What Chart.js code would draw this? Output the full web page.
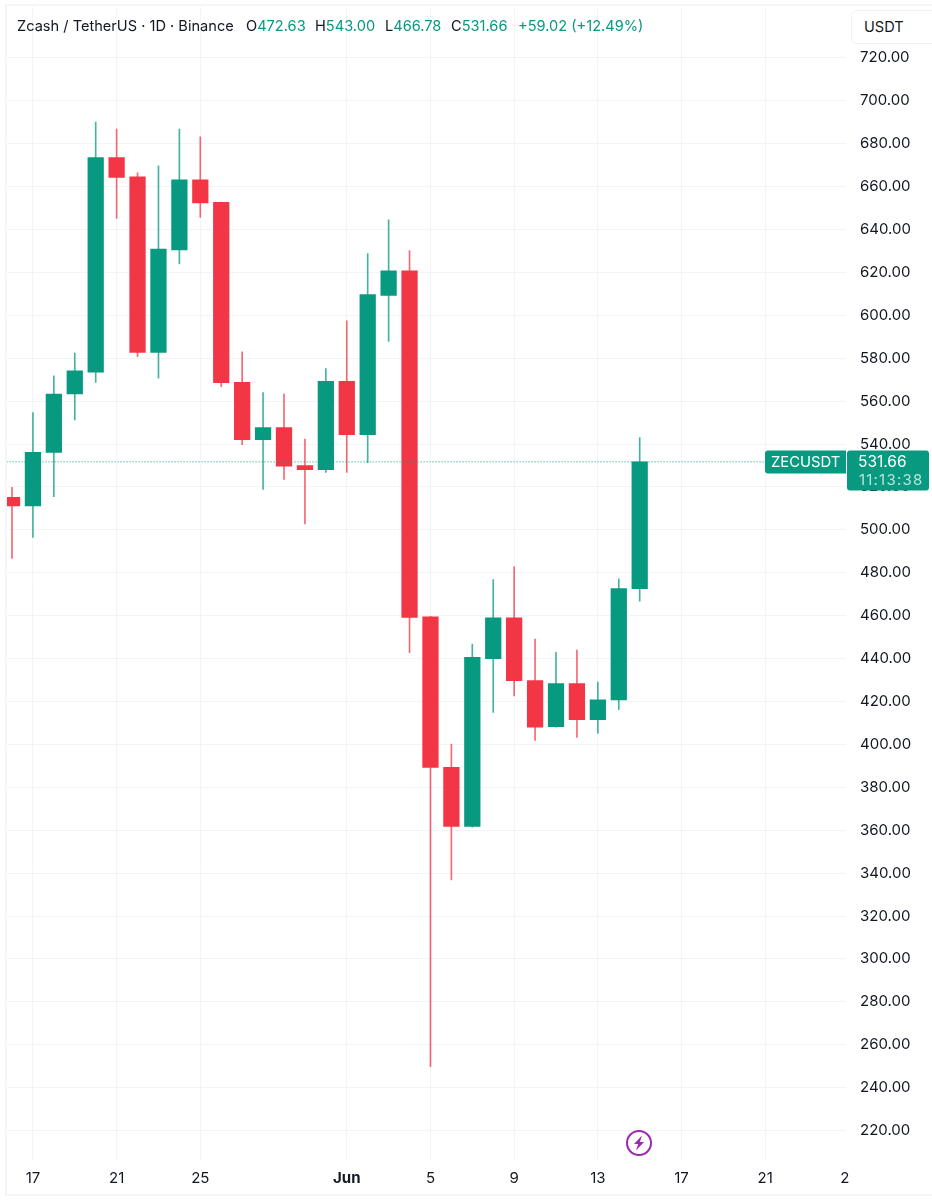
<!DOCTYPE html>
<html>
<head>
<meta charset="utf-8">
<title>ZECUSDT 1D</title>
<script src="https://cdn.jsdelivr.net/npm/chart.js@4"></script>
<style>
    html, body { margin: 0; padding: 0; background: #fff; }
    body { width: 932px; height: 1200px; position: relative; overflow: hidden; font-family: Inter, "Noto Sans", sans-serif; color: #131722; }
    canvas { position: absolute; left: 0; top: 0; }
    #frame { position: absolute; left: 5px; top: 4px; width: 940px; height: 1188px; border: 2px solid #f5f6f8; pointer-events: none; }
    .head { position: absolute; top: 17px; font-size: 14.6px; line-height: 18px; white-space: nowrap; }
    .up { color: #089981; }
    #unit { position: absolute; left: 851px; top: 10px; width: 90px; height: 32px; border: 1px solid #eef0f4; border-radius: 6px; background: #fff; font-size: 14.6px; line-height: 32px; text-indent: 12px; }
    #bolt { position: absolute; left: 625px; top: 1129px; }
</style>
</head>
<body>
<canvas id="chart" width="932" height="1200"></canvas>
<div id="frame"></div>
<div class="head" style="left:17px">Zcash / TetherUS · 1D · Binance</div>
<div class="head" style="left:246px">O<span class="up">472.63</span></div>
<div class="head" style="left:315px">H<span class="up">543.00</span></div>
<div class="head" style="left:385px">L<span class="up">466.78</span></div>
<div class="head" style="left:451px">C<span class="up">531.66</span></div>
<div class="head up" style="left:518px">+59.02 (+12.49%)</div>
<div id="unit">USDT</div>
<svg id="bolt" width="28" height="28" viewBox="0 0 28 28">
    <circle cx="14" cy="14" r="12" fill="none" stroke="#9c27b0" stroke-width="2"/>
    <path d="M17 6.5 L9 15 L13.2 15 L11 21.5 L19 13 L14.8 13 Z" fill="#9c27b0"/>
</svg>
<script>
// daily candles, May 16 to Jun 15
const days = ["May 16", "May 17", "May 18", "May 19", "May 20", "May 21", "May 22", "May 23", "May 24", "May 25", "May 26",
    "May 27", "May 28", "May 29", "May 30", "May 31", "Jun 1", "Jun 2", "Jun 3", "Jun 4", "Jun 5", "Jun 6", "Jun 7", "Jun 8",
    "Jun 9", "Jun 10", "Jun 11", "Jun 12", "Jun 13", "Jun 14", "Jun 15"];
const opens = [515.1, 511.2, 536.1, 563.3, 573.5, 673.5, 664.5, 582.7, 630.5, 663.1, 652.6,
    568.7, 542.0, 547.6, 529.9, 528.0, 569.2, 544.3, 609.3, 620.7, 459.5, 389.3, 361.8, 440.0,
    459.0, 429.7, 408.3, 428.3, 411.5, 420.7, 472.63];
const closes = [511.2, 536.1, 563.3, 574.1, 673.5, 664.2, 582.7, 630.9, 663.1, 652.4, 568.6,
    542.0, 547.6, 529.7, 528.0, 569.2, 544.3, 609.6, 620.7, 459.2, 389.3, 361.8, 440.6, 459.0,
    429.7, 408.0, 428.3, 411.5, 420.8, 472.6, 531.66];
const highs = [519.8, 554.7, 571.8, 582.4, 690.0, 686.8, 666.4, 669.7, 686.8, 683.2, 652.8,
    583.0, 564.0, 563.3, 542.3, 575.2, 597.4, 628.8, 644.5, 630.1, 459.7, 400.2, 446.8, 476.8,
    482.8, 449.1, 442.9, 444.0, 429.1, 477.2, 543.0];
const lows = [486.7, 496.5, 515.4, 551.2, 568.7, 645.1, 580.7, 570.7, 623.9, 645.6, 566.7,
    539.7, 518.8, 523.5, 502.7, 526.8, 526.8, 531.3, 587.8, 442.7, 249.8, 336.8, 361.4, 414.9,
    422.6, 401.9, 408.0, 403.3, 405.1, 416.2, 466.78];

const yTicks = [720, 700, 680, 660, 640, 620, 600, 580, 560, 540, 520, 500, 480, 460, 440, 420, 400, 380, 360, 340, 320, 300, 280, 260, 240, 220];
const xTickSpots = [1, 5, 9, 16, 20, 24, 28, 32, 36, 39.8];
const xTickLabels = ["17", "21", "25", "Jun", "5", "9", "13", "17", "21", "2"];
const lastPrice = 531.66;
const countdown = "11:13:38";
const symbol = "ZECUSDT";

const GREEN = "#089981";
const RED = "#F23645";
const GREEN_WICK = "rgba(8,153,129,0.75)";
const RED_WICK = "rgba(242,54,69,0.75)";
const GRID = "#f3f4f7";
const FONT = "Inter, 'Noto Sans', sans-serif";

const candleColor = (ctx) => closes[ctx.dataIndex] >= opens[ctx.dataIndex] ? GREEN : RED;
const wickColor = (ctx) => closes[ctx.dataIndex] >= opens[ctx.dataIndex] ? GREEN_WICK : RED_WICK;

function roundBox(c, x, y, w, h, r) {
    c.beginPath();
    c.roundRect(x, y, w, h, r);
    c.fill();
}

// price tags on the right, they sit on top of the axis labels
const priceTag = {
    id: "priceTag",
    afterDraw(chart) {
        const c = chart.ctx;
        const y = chart.scales.y.getPixelForValue(lastPrice);
        c.save();
        c.fillStyle = GREEN;
        roundBox(c, 765, y - 11.5, 81, 23, [3, 0, 0, 3]);
        roundBox(c, 847, y - 11.5, 82, 40, 3);
        c.textBaseline = "middle";
        c.fillStyle = "#fff";
        c.font = "14.8px " + FONT;
        c.fillText(symbol, 771, y + 0.5);
        c.font = "15.5px " + FONT;
        c.fillText(lastPrice.toFixed(2), 858, y + 0.5);
        c.font = "15px " + FONT;
        c.fillStyle = "rgba(255,255,255,0.72)";
        c.letterSpacing = "1.2px";
        c.fillText(countdown, 859, y + 18.5);
        c.restore();
    }
};

new Chart(document.getElementById("chart").getContext("2d"), {
    data: {
        datasets: [
            {
                type: "line",
                data: [{ x: -0.26, y: lastPrice }, { x: 36.0, y: lastPrice }],
                borderColor: GREEN,
                borderWidth: 1,
                borderDash: [1, 2],
                pointRadius: 0,
                order: 0
            },
            {
                type: "bar",
                data: days.map((d, i) => ({ x: i, y: [opens[i], closes[i]] })),
                backgroundColor: candleColor,
                barThickness: 15.6,
                grouped: false,
                order: 1
            },
            {
                type: "bar",
                data: days.map((d, i) => ({ x: i, y: [lows[i], highs[i]] })),
                backgroundColor: wickColor,
                barThickness: 1,
                grouped: false,
                order: 2
            }
        ]
    },
    options: {
        responsive: false,
        animation: false,
        layout: { autoPadding: false, padding: { left: 6.5, top: 6.8, right: 0, bottom: 0 } },
        plugins: { legend: { display: false }, tooltip: { enabled: false } },
        scales: {
            x: {
                type: "linear",
                offset: false,
                min: -0.263,
                max: 39.86,
                grid: {
                    offset: false,
                    drawTicks: false,
                    color: (ctx) => ctx.index === xTickSpots.length - 1 ? "transparent" : GRID
                },
                border: { display: false },
                afterBuildTicks(scale) { scale.ticks = xTickSpots.map((v) => ({ value: v })); },
                afterFit(scale) { scale.height = 40; },
                ticks: {
                    autoSkip: false,
                    maxRotation: 0,
                    padding: 9,
                    color: "#131722",
                    font: (ctx) => ({ family: FONT, size: 15, weight: ctx.index === 3 ? "bold" : "normal" }),
                    callback: (v, i) => xTickLabels[i]
                }
            },
            y: {
                position: "right",
                min: 206.3,
                max: 743.77,
                grid: { drawTicks: false, color: GRID },
                border: { display: false },
                afterBuildTicks(scale) { scale.ticks = yTicks.map((v) => ({ value: v })); },
                afterFit(scale) {
                    scale.width = 86;
                    scale.paddingTop = 0;
                    scale.paddingBottom = 0;
                },
                ticks: {
                    padding: 14,
                    color: "#131722",
                    font: { family: FONT, size: 15 },
                    callback: (v) => v.toFixed(2)
                }
            }
        }
    },
    plugins: [priceTag]
});
</script>
</body>
</html>
